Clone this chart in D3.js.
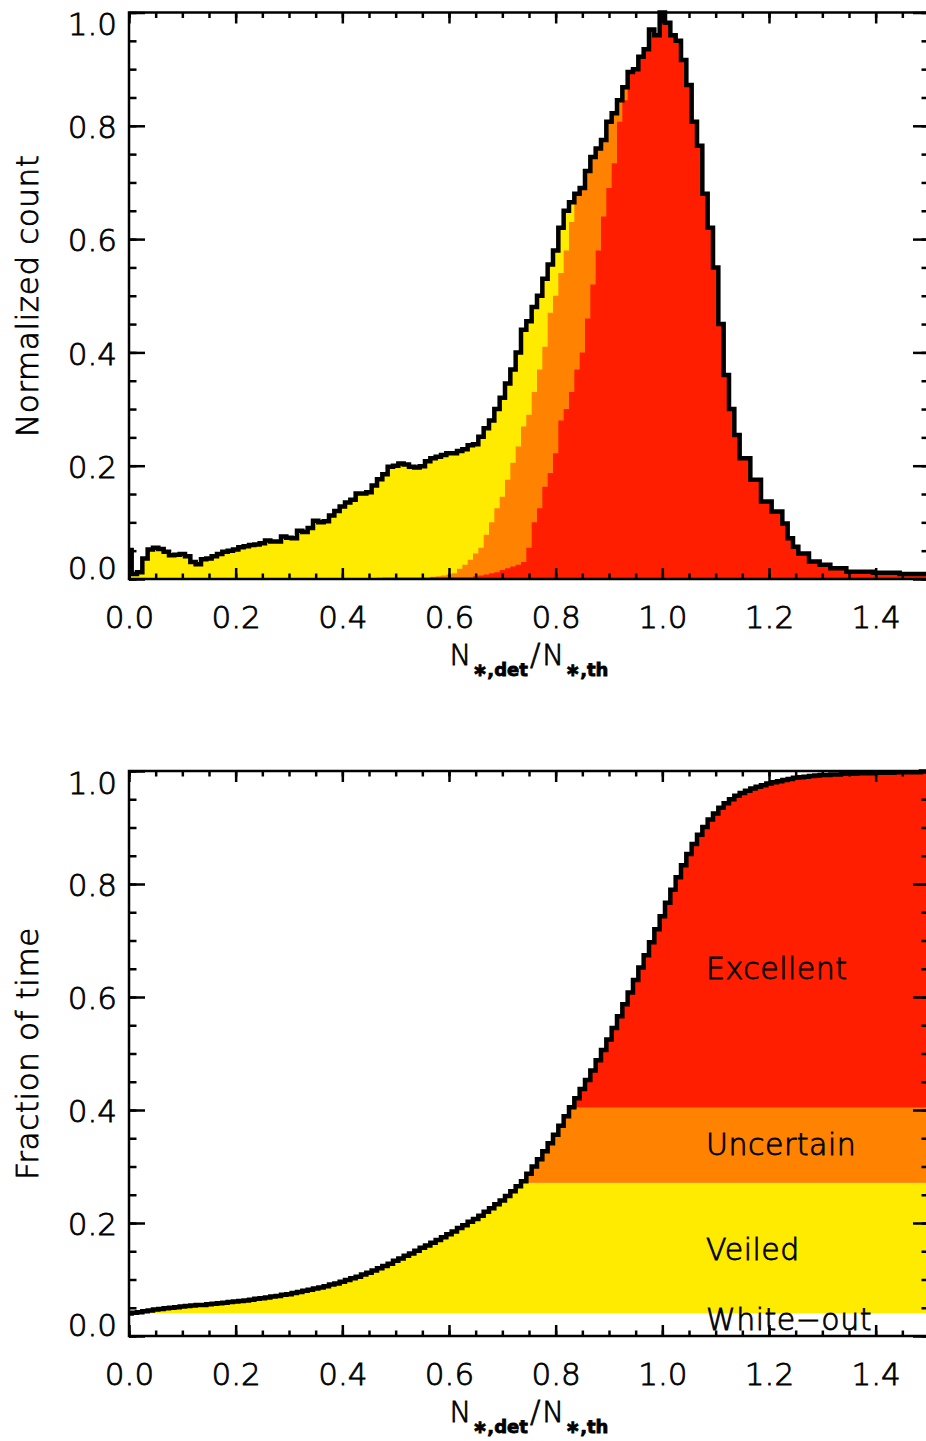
<!DOCTYPE html>
<html>
<head>
<meta charset="utf-8">
<script src="https://cdn.jsdelivr.net/npm/d3@7"></script>
<style>
body { margin: 0; background: #fff; }
text { font-family: "DejaVu Sans", sans-serif; font-weight: 300; fill: #000; stroke: #000; stroke-width: 0.8px; }
</style>
</head>
<body>
<div id="chart"></div>
<script>
// bin centres run 0.00, 0.01, ... 1.50 (151 values)
const binStep = 0.01

// normalized histogram, outline (all classes)
const histTotal = [
  0.051, 0.009, 0.012, 0.036, 0.052, 0.055, 0.053, 0.048, 0.042, 0.043,
  0.044, 0.040, 0.030, 0.026, 0.035, 0.036, 0.040, 0.044, 0.048, 0.050,
  0.052, 0.056, 0.058, 0.060, 0.061, 0.063, 0.068, 0.066, 0.066, 0.075,
  0.073, 0.072, 0.085, 0.083, 0.090, 0.103, 0.100, 0.102, 0.112, 0.120,
  0.128, 0.135, 0.140, 0.151, 0.151, 0.153, 0.165, 0.176, 0.185, 0.198,
  0.200, 0.204, 0.202, 0.198, 0.197, 0.199, 0.208, 0.213, 0.216, 0.219,
  0.222, 0.222, 0.226, 0.229, 0.236, 0.238, 0.251, 0.266, 0.280, 0.300,
  0.320, 0.345, 0.370, 0.400, 0.440, 0.455, 0.480, 0.500, 0.530, 0.555,
  0.580, 0.620, 0.650, 0.665, 0.680, 0.690, 0.720, 0.745, 0.760, 0.775,
  0.807, 0.822, 0.845, 0.868, 0.895, 0.900, 0.922, 0.935, 0.970, 0.960,
  1.000, 0.982, 0.960, 0.950, 0.916, 0.872, 0.807, 0.765, 0.680, 0.620,
  0.550, 0.450, 0.360, 0.300, 0.254, 0.213, 0.213, 0.175, 0.175, 0.137,
  0.137, 0.119, 0.119, 0.098, 0.072, 0.057, 0.045, 0.045, 0.031, 0.031,
  0.025, 0.025, 0.019, 0.019, 0.019, 0.013, 0.013, 0.013, 0.013, 0.013,
  0.011, 0.011, 0.011, 0.011, 0.011, 0.009, 0.009, 0.009, 0.009, 0.009,
  0.009
]

// top of the uncertain + excellent part
const histNotVeiled = [
  0, 0, 0, 0, 0, 0, 0, 0, 0, 0,
  0, 0, 0, 0, 0, 0, 0, 0, 0, 0,
  0, 0, 0, 0, 0, 0, 0, 0, 0, 0,
  0, 0, 0, 0, 0, 0, 0, 0, 0, 0,
  0, 0, 0, 0, 0, 0, 0, 0.002, 0.003, 0.003,
  0.003, 0.003, 0.003, 0.003, 0.003, 0.003, 0.003, 0.004, 0.005, 0.006,
  0.008, 0.010, 0.018, 0.025, 0.034, 0.045, 0.055, 0.078, 0.100, 0.125,
  0.145, 0.175, 0.205, 0.234, 0.269, 0.290, 0.330, 0.370, 0.410, 0.470,
  0.500, 0.540, 0.580, 0.630, 0.680, 0.690, 0.720, 0.745, 0.760, 0.775,
  0.807, 0.822, 0.845, 0.868, 0.895, 0.900, 0.922, 0.935, 0.970, 0.960,
  1.000, 0.982, 0.960, 0.950, 0.916, 0.872, 0.807, 0.765, 0.680, 0.620,
  0.550, 0.450, 0.360, 0.300, 0.254, 0.213, 0.213, 0.175, 0.175, 0.137,
  0.137, 0.119, 0.119, 0.098, 0.072, 0.057, 0.045, 0.045, 0.031, 0.031,
  0.025, 0.025, 0.019, 0.019, 0.019, 0.013, 0.013, 0.013, 0.013, 0.013,
  0.011, 0.011, 0.011, 0.011, 0.011, 0.009, 0.009, 0.009, 0.009, 0.009,
  0.009
]

// excellent part only
const histExcellent = [
  0, 0, 0, 0, 0, 0, 0, 0, 0, 0,
  0, 0, 0, 0, 0, 0, 0, 0, 0, 0,
  0, 0, 0, 0, 0, 0, 0, 0, 0, 0,
  0, 0, 0, 0, 0, 0, 0, 0, 0, 0,
  0, 0, 0, 0, 0, 0, 0, 0, 0, 0,
  0, 0, 0, 0, 0, 0, 0, 0.003, 0.003, 0.003,
  0.003, 0.003, 0.003, 0.003, 0.003, 0.005, 0.006, 0.008, 0.010, 0.012,
  0.016, 0.019, 0.022, 0.025, 0.030, 0.055, 0.100, 0.125, 0.163, 0.187,
  0.222, 0.280, 0.300, 0.330, 0.370, 0.400, 0.460, 0.520, 0.580, 0.640,
  0.690, 0.734, 0.807, 0.845, 0.895, 0.900, 0.922, 0.935, 0.970, 0.960,
  1.000, 0.982, 0.960, 0.950, 0.916, 0.872, 0.807, 0.765, 0.680, 0.620,
  0.550, 0.450, 0.360, 0.300, 0.254, 0.213, 0.213, 0.175, 0.175, 0.137,
  0.137, 0.119, 0.119, 0.098, 0.072, 0.057, 0.045, 0.045, 0.031, 0.031,
  0.025, 0.025, 0.019, 0.019, 0.019, 0.013, 0.013, 0.013, 0.013, 0.013,
  0.011, 0.011, 0.011, 0.011, 0.011, 0.009, 0.009, 0.009, 0.009, 0.009,
  0.009
]

// cumulative fraction of time
const cumFraction = [
  0.040, 0.041, 0.042, 0.044, 0.045, 0.047, 0.048, 0.049, 0.050, 0.051,
  0.052, 0.053, 0.054, 0.055, 0.055, 0.056, 0.057, 0.058, 0.059, 0.060,
  0.061, 0.062, 0.063, 0.064, 0.066, 0.067, 0.068, 0.070, 0.071, 0.073,
  0.074, 0.076, 0.078, 0.080, 0.082, 0.084, 0.086, 0.088, 0.091, 0.093,
  0.096, 0.099, 0.102, 0.105, 0.109, 0.112, 0.116, 0.120, 0.124, 0.128,
  0.133, 0.137, 0.142, 0.146, 0.151, 0.156, 0.160, 0.165, 0.170, 0.175,
  0.180, 0.185, 0.191, 0.196, 0.202, 0.207, 0.213, 0.220, 0.226, 0.233,
  0.240, 0.248, 0.256, 0.265, 0.274, 0.287, 0.300, 0.313, 0.327, 0.341,
  0.356, 0.372, 0.389, 0.405, 0.421, 0.437, 0.453, 0.470, 0.488, 0.506,
  0.525, 0.545, 0.566, 0.587, 0.608, 0.630, 0.652, 0.674, 0.697, 0.720,
  0.743, 0.767, 0.790, 0.812, 0.833, 0.853, 0.871, 0.887, 0.901, 0.914,
  0.925, 0.935, 0.943, 0.950, 0.956, 0.961, 0.965, 0.969, 0.972, 0.975,
  0.978, 0.980, 0.982, 0.984, 0.986, 0.988, 0.989, 0.990, 0.991, 0.992,
  0.993, 0.993, 0.994, 0.994, 0.995, 0.995, 0.995, 0.996, 0.996, 0.996,
  0.997, 0.997, 0.997, 0.997, 0.998, 0.998, 0.998, 0.998, 0.998, 0.999,
  0.999
]

// class limits in fraction of time, and names
const classCuts = [0.04, 0.271, 0.404, 1.0]
const classNames = ["White\u2212out", "Veiled", "Uncertain", "Excellent"]
const classColors = ["#ffeb00", "#ff8200", "#ff1f00"]

const xMajor = [0.0, 0.2, 0.4, 0.6, 0.8, 1.0, 1.2, 1.4]
const yMajor = [0.0, 0.2, 0.4, 0.6, 0.8, 1.0]

const width = 926, height = 1441

let xMinor = d3.range(0, 31).map(i => i * 0.05)
let yMinor = d3.range(0, 21).map(i => i * 0.05)

let svg = d3.select("#chart").append("svg")
    .attr("width", width)
    .attr("height", height)

let x = d3.scaleLinear().domain([0, 1.5]).range([129, 929])
let yTop = d3.scaleLinear().domain([0, 1]).range([579, 12.5])
let yBot = d3.scaleLinear().domain([0, 1]).range([1336, 771])

const bins = histTotal.map((d, i) => i * binStep)

function stepArea(y, values) {
    return d3.area()
        .curve(d3.curveStep)
        .x((d, i) => x(bins[i]))
        .y0(y(0))
        .y1(d => y(d))(values)
}

function stepLine(y, values) {
    return d3.line()
        .curve(d3.curveStep)
        .x((d, i) => x(bins[i]))
        .y(d => y(d))(values)
}

function styleAxis(g) {
    g.select(".domain").remove()
    g.attr("font-size", null).attr("font-family", null)
    g.selectAll("line").attr("stroke", "#000").attr("stroke-width", 2.5)
    g.selectAll("text").style("font-size", "31px")
}

// box with ticks on all four sides, labels on left and bottom
function frame(y, yTitle) {
    let [y0, y1] = y.range()
    let g = svg.append("g")

    g.append("g").attr("transform", `translate(0,${y0})`)
        .call(d3.axisBottom(x).tickValues(xMinor).tickSize(-5.5).tickFormat(""))
        .call(styleAxis)
    g.append("g").attr("transform", `translate(0,${y1})`)
        .call(d3.axisTop(x).tickValues(xMinor).tickSize(-5.5).tickFormat(""))
        .call(styleAxis)
    g.append("g").attr("transform", `translate(0,${y0})`)
        .call(d3.axisBottom(x).tickValues(xMajor).tickSize(-11).tickPadding(27)
              .tickFormat(d3.format(".1f")))
        .call(styleAxis)
    g.append("g").attr("transform", `translate(0,${y1})`)
        .call(d3.axisTop(x).tickValues(xMajor).tickSize(-11).tickFormat(""))
        .call(styleAxis)

    let [xl, xr] = x.range()
    g.append("g").attr("transform", `translate(${xl},0)`)
        .call(d3.axisLeft(y).tickValues(yMinor).tickSize(-7.5).tickFormat(""))
        .call(styleAxis)
    g.append("g").attr("transform", `translate(${xr},0)`)
        .call(d3.axisRight(y).tickValues(yMinor).tickSize(-7.5).tickFormat(""))
        .call(styleAxis)
    g.append("g").attr("transform", `translate(${xr},0)`)
        .call(d3.axisRight(y).tickValues(yMajor).tickSize(-16).tickFormat(""))
        .call(styleAxis)

    let leftAxis = g.append("g").attr("transform", `translate(${xl},0)`)
        .call(d3.axisLeft(y).tickValues(yMajor).tickSize(-16).tickPadding(12)
              .tickFormat(d3.format(".1f")))
        .call(styleAxis)
    // keep the end labels inside the box, as the original does
    leftAxis.selectAll(".tick text")
        .attr("dy", d => d == 0 ? "-0.03em" : d == 1 ? "0.72em" : "0.38em")

    g.append("rect")
        .attr("x", xl).attr("y", y1)
        .attr("width", xr - xl).attr("height", y0 - y1)
        .attr("fill", "none")
        .attr("stroke", "#000")
        .attr("stroke-width", 2.5)

    // y title
    g.append("text")
        .attr("transform", `translate(38,${(y0 + y1) / 2}) rotate(-90)`)
        .attr("text-anchor", "middle")
        .style("font-size", "31px")
        .style("letter-spacing", "0.6px")
        .text(yTitle)

    // x title N*,det / N*,th
    let t = g.append("text")
        .attr("x", (xl + xr) / 2)
        .attr("y", y0 + 86)
        .attr("text-anchor", "middle")
        .style("font-size", "29px")
    t.append("tspan").text("N")
    t.append("tspan").attr("dy", 11).style("font-size", "18px").style("font-weight", "bold")
        .attr("dx", 1).text("\u2217,det")
    t.append("tspan").attr("dy", -11).attr("dx", 2).style("font-size", "31px").text("/")
    t.append("tspan").attr("dx", 2).text("N")
    t.append("tspan").attr("dy", 11).style("font-size", "18px").style("font-weight", "bold")
        .attr("dx", 1).text("\u2217,th")
}

// ---- top panel: histogram ----
let histPanel = svg.append("g")
histPanel.append("path").attr("d", stepArea(yTop, histTotal)).attr("fill", classColors[0])
histPanel.append("path").attr("d", stepArea(yTop, histNotVeiled)).attr("fill", classColors[1])
histPanel.append("path").attr("d", stepArea(yTop, histExcellent)).attr("fill", classColors[2])
histPanel.append("path")
    .attr("d", stepLine(yTop, histTotal))
    .attr("fill", "none")
    .attr("stroke", "#000")
    .attr("stroke-width", 4.5)

frame(yTop, "Normalized count")

// ---- bottom panel: cumulative ----
let cumPanel = svg.append("g")
cumPanel.append("defs").append("clipPath")
    .attr("id", "cum-clip")
    .append("path")
    .attr("d", stepArea(yBot, cumFraction))

let bands = cumPanel.append("g").attr("clip-path", "url(#cum-clip)")
bands.selectAll("rect")
    .data(classColors)
    .join("rect")
    .attr("x", x(0))
    .attr("width", x(1.5) - x(0))
    .attr("y", (d, i) => yBot(classCuts[i + 1]))
    .attr("height", (d, i) => yBot(classCuts[i]) - yBot(classCuts[i + 1]))
    .attr("fill", d => d)

cumPanel.append("path")
    .attr("d", stepLine(yBot, cumFraction))
    .attr("fill", "none")
    .attr("stroke", "#000")
    .attr("stroke-width", 4.5)

// class names, baselines picked to sit like in the original
const labelBase = [1330, 1260, 1155, 979]
cumPanel.selectAll("text.cls")
    .data(classNames)
    .join("text")
    .attr("class", "cls")
    .attr("x", 706)
    .attr("y", (d, i) => labelBase[i])
    .style("font-size", "30px")
    .style("letter-spacing", "0.5px")
    .text(d => d)

frame(yBot, "Fraction of time")
</script>
